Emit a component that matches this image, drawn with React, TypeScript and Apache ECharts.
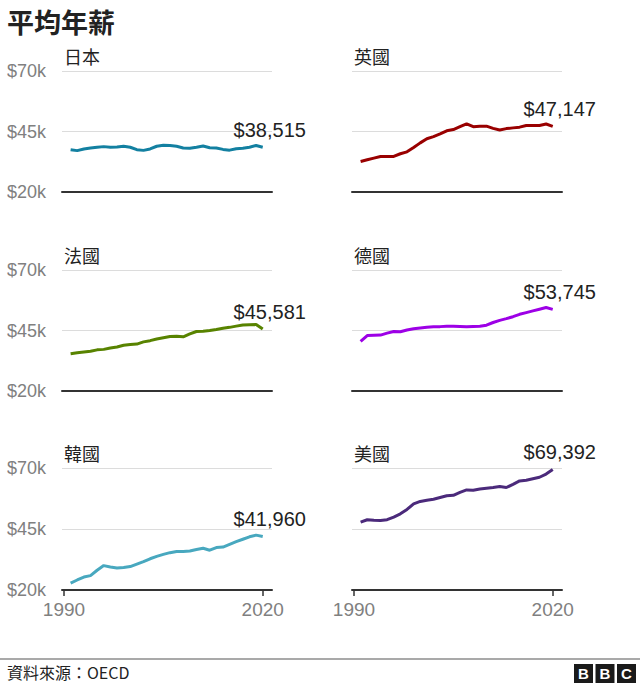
import React, { useEffect, useRef } from "react";
import * as echarts from "echarts";

// Average annual wages, thousands of US dollars, 1991–2020 (source: OECD)
const years: number[] = Array.from({ length: 30 }, (_, i) => 1991 + i);

const japan = [37.5, 37.1, 37.8, 38.2, 38.5, 38.75, 38.5, 38.6, 38.9, 38.5, 37.5, 37.2, 37.8, 38.9, 39.3, 39.2, 38.9, 38.2, 38.1, 38.5, 39.0, 38.3, 38.2, 37.6, 37.3, 37.9, 38.1, 38.5, 39.2, 38.515];
const uk = [32.6, 33.3, 34.0, 34.7, 34.7, 34.7, 35.8, 36.6, 38.4, 40.3, 42.0, 42.9, 44.0, 45.3, 45.8, 47.0, 48.2, 47.0, 47.2, 47.2, 46.3, 45.6, 46.2, 46.5, 46.8, 47.5, 47.5, 47.5, 48.1, 47.147];
const france = [35.4, 35.8, 36.1, 36.4, 37.0, 37.2, 37.8, 38.2, 38.9, 39.2, 39.4, 40.3, 40.8, 41.5, 42.0, 42.5, 42.6, 42.4, 43.6, 44.6, 44.7, 45.0, 45.4, 45.9, 46.3, 46.8, 47.3, 47.4, 47.5, 45.581];
const germany = [40.5, 42.9, 43.0, 43.1, 43.9, 44.6, 44.5, 45.2, 45.7, 46.0, 46.3, 46.5, 46.6, 46.8, 46.8, 46.7, 46.5, 46.7, 46.8, 47.2, 48.3, 49.2, 49.9, 50.7, 51.7, 52.4, 53.1, 53.8, 54.5, 53.745];
const korea = [22.8, 24.1, 25.3, 25.9, 28.1, 30.0, 29.4, 29.0, 29.2, 29.6, 30.6, 31.6, 32.8, 33.8, 34.6, 35.3, 35.8, 35.8, 36.0, 36.6, 37.1, 36.3, 37.4, 37.6, 38.7, 39.8, 40.8, 41.8, 42.5, 41.96];
const usa = [47.8, 48.8, 48.6, 48.5, 48.8, 49.9, 51.2, 53.0, 55.3, 56.3, 56.8, 57.2, 57.9, 58.6, 58.8, 60.0, 61.0, 60.9, 61.4, 61.7, 62.0, 62.4, 62.0, 63.3, 64.7, 65.0, 65.6, 66.2, 67.5, 69.392];

const countries = ["日本", "英國", "法國", "德國", "韓國", "美國"];
const seriesValues = [japan, uk, france, germany, korea, usa];
const colors = ["#1380A1", "#990000", "#588300", "#9D00E6", "#48A8BF", "#4B2A7B"];
const yTicks = [20, 45, 70];
const xTicks = [1990, 2020];

const LATIN = "'Liberation Sans', Arial, sans-serif";
const CJK = "'Noto Sans CJK TC', 'Noto Sans CJK SC', sans-serif";

const dollars = (k: number) => "$" + Math.round(k * 1000).toLocaleString("en-US");

export default function App() {
  const ref = useRef<HTMLDivElement>(null);

  useEffect(() => {
    if (!ref.current) return;
    const chart = echarts.init(ref.current, null, { renderer: "svg" });

    const colLeft = [62, 352];
    const rowTop = [71, 270, 468];
    const rowHeight = [121, 121, 122];

    const grids: any[] = [];
    const xAxes: any[] = [];
    const yAxes: any[] = [];
    const series: any[] = [];
    const graphics: any[] = [];

    countries.forEach((name, i) => {
      const col = i % 2;
      const row = Math.floor(i / 2);
      const bottomRow = row === 2;
      grids.push({
        left: colLeft[col],
        top: rowTop[row],
        width: 210,
        height: rowHeight[row],
        containLabel: false,
      });
      xAxes.push({
        type: "value",
        gridIndex: i,
        min: 1989.7,
        max: 2021.4,
        axisLine: { show: true, lineStyle: { color: "#333333", width: 2 } },
        axisTick: {
          show: bottomRow,
          customValues: xTicks,
          length: 6,
          lineStyle: { color: "#333333", width: 1.5 },
        },
        axisLabel: {
          show: bottomRow,
          customValues: xTicks,
          formatter: (v: number) => String(v),
          color: "#808080",
          fontSize: 19,
          fontFamily: LATIN,
          margin: 10,
        },
        splitLine: { show: false },
      });
      yAxes.push({
        type: "value",
        gridIndex: i,
        min: yTicks[0],
        max: yTicks[yTicks.length - 1],
        interval: yTicks[1] - yTicks[0],
        axisLine: { show: false },
        axisTick: { show: false },
        axisLabel: {
          show: col === 0,
          formatter: (v: number) => `$${v}k`,
          color: "#808080",
          fontSize: 18,
          fontFamily: LATIN,
          margin: 16,
        },
        splitLine: { show: true, lineStyle: { color: "#dcdcdc", width: 1 } },
      });
      const vals = seriesValues[i];
      const lastYear = years[years.length - 1];
      const lastVal = vals[vals.length - 1];
      series.push({
        type: "line",
        name,
        xAxisIndex: i,
        yAxisIndex: i,
        data: years.map((yr, j) => [yr, vals[j]]),
        showSymbol: false,
        symbol: "none",
        lineStyle: { color: colors[i], width: 3 },
        itemStyle: { color: colors[i] },
        z: 3,
        markPoint: {
          symbol: "circle",
          symbolSize: 1,
          itemStyle: { color: "rgba(0,0,0,0)" },
          data: [{ coord: [lastYear, lastVal], value: lastVal }],
          label: {
            show: true,
            position: "top",
            distance: 7,
            offset: [7, 0],
            formatter: () => dollars(lastVal),
            color: "#222222",
            fontSize: 20,
            fontFamily: LATIN,
          },
        },
      });
      graphics.push({
        type: "text",
        x: colLeft[col] + 2,
        y: rowTop[row] - 15,
        style: {
          text: name,
          font: `18px ${CJK}`,
          fill: "#222222",
          verticalAlign: "middle",
        },
      });
    });

    // Heading, footer rule, source note and logo
    graphics.push(
      {
        type: "text",
        x: 7,
        y: 21,
        style: {
          text: "平均年薪",
          font: `bold 27px ${CJK}`,
          fill: "#222222",
          verticalAlign: "middle",
        },
      },
      {
        type: "line",
        shape: { x1: 0, y1: 659, x2: 640, y2: 659 },
        style: { stroke: "#8c8c8c", lineWidth: 1.5 },
      },
      {
        type: "text",
        x: 7,
        y: 672,
        style: {
          text: "資料來源：OECD",
          font: `16px ${CJK}`,
          fill: "#222222",
          verticalAlign: "middle",
        },
      }
    );
    ["B", "B", "C"].forEach((ch, k) => {
      const bx = 574 + k * 21.5;
      graphics.push(
        {
          type: "rect",
          shape: { x: bx, y: 664, width: 19, height: 19 },
          style: { fill: "#1a1a1a" },
        },
        {
          type: "text",
          x: bx + 9.5,
          y: 673.8,
          style: {
            text: ch,
            font: `bold 15px ${LATIN}`,
            fill: "#ffffff",
            align: "center",
            verticalAlign: "middle",
          },
        }
      );
    });

    chart.setOption({
      animation: false,
      backgroundColor: "#ffffff",
      grid: grids,
      xAxis: xAxes,
      yAxis: yAxes,
      series,
      graphic: graphics,
    });

    return () => chart.dispose();
  }, []);

  return (
    <div
      ref={ref}
      style={{ position: "fixed", left: 0, top: 0, width: 640, height: 687 }}
    />
  );
}
